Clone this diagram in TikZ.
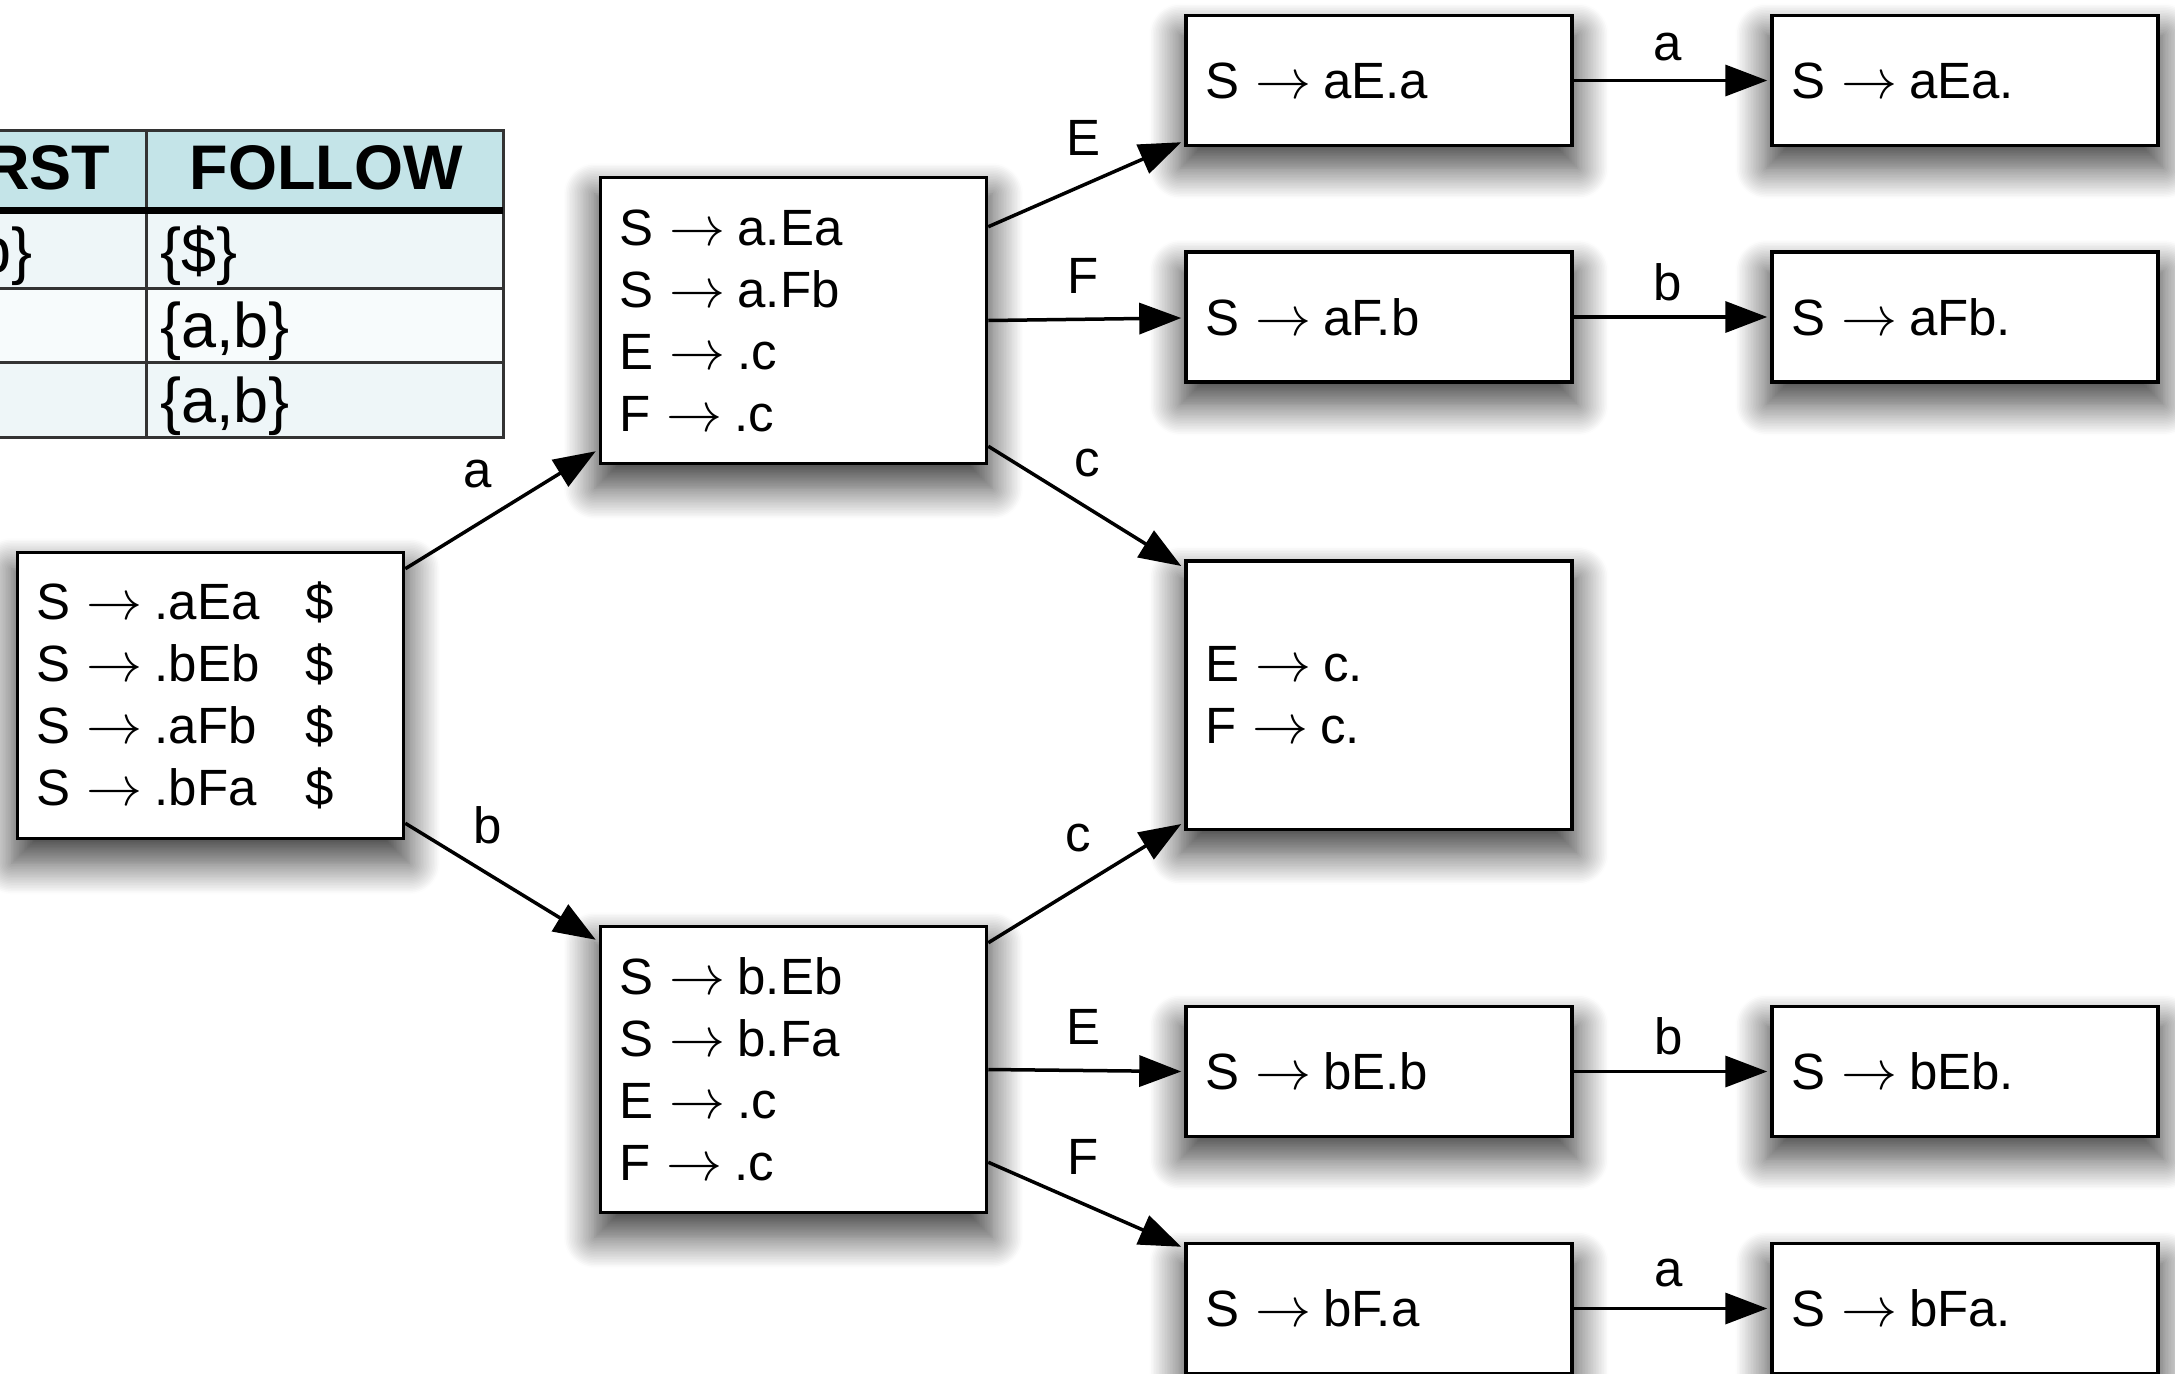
\RequirePackage{fix-cm}
\documentclass[tikz,border=0pt]{standalone}
\usepackage{fontspec}
\setmainfont{Liberation Sans}
\usetikzlibrary{arrows.meta,calc,shadows.blur}

\definecolor{hdr}{HTML}{C4E4E8}
\definecolor{rowA}{HTML}{EEF6F8}
\definecolor{rowB}{HTML}{F7FBFC}
\definecolor{gridc}{HTML}{333333}

\newcommand\prodarr{\hspace{16pt}{\fontsize{56}{62}\selectfont$\rightarrow$}\hspace{12pt}}

\begin{document}
\begin{tikzpicture}[x=1pt,y=-1pt,
  state/.style={draw=black, line width=3.5pt, fill=white, rectangle,
    inner xsep=19pt, inner ysep=0pt, text width=348pt, align=left,
    font=\fontsize{51}{62}\selectfont,
    blur shadow={shadow xshift=0pt, shadow yshift=-20pt, shadow scale=1.03, shadow blur radius=30pt, shadow blur steps=20, shadow opacity=75}},
  tallbox/.style={state, minimum height=286pt},
  midbox/.style={state, minimum height=268.5pt},
  shortbox/.style={state, minimum height=130pt},
  arr/.style={line width=3.5pt, -{Triangle[length=42pt, width=31pt]}},
  lbl/.style={font=\fontsize{51}{62}\selectfont, inner sep=0pt},
  hd/.style={font=\fontsize{63}{70}\selectfont\bfseries, inner sep=0pt},
  cell/.style={font=\fontsize{63}{70}\selectfont, inner sep=0pt, anchor=base west}]

\useasboundingbox (0,0) rectangle (2175,1373);
\clip (0,0) rectangle (2175,1373);

% ---- table ----
\fill[hdr]  (-109,130) rectangle (503,210);
\fill[rowA] (-109,210) rectangle (503,288);
\fill[rowB] (-109,288) rectangle (503,362);
\fill[rowA] (-109,362) rectangle (503,437);
\draw[gridc, line width=3pt] (-109,130) rectangle (503,437);
\draw[gridc, line width=3pt] (146,130) -- (146,437);
\draw[gridc, line width=3pt] (-109,288) -- (503,288);
\draw[gridc, line width=3pt] (-109,362) -- (503,362);
\draw[black, line width=7pt] (-109,210) -- (503,210);
\node[hd] (hfirst) at (19,168) {FIRST};
\node[hd] (hfollow) at (326,168) {FOLLOW};
\node[cell] (first1) at (-97,272) {\{a,b\}};
\node[cell] (fol1) at (160,272) {\{\$\}};
\node[cell] (fol2) at (160,347) {\{a,b\}};
\node[cell] (fol3) at (160,422) {\{a,b\}};

% ---- states ----
\node[tallbox] (s0) at (210.5,695.5) {\makebox[269pt][l]{S\prodarr.aEa}\$\\
  \makebox[269pt][l]{S\prodarr.bEb}\$\\
  \makebox[269pt][l]{S\prodarr.aFb}\$\\
  \makebox[269pt][l]{S\prodarr.bFa}\$};
\node[tallbox] (s1) at (793.5,320.5) {S\prodarr a.Ea\\S\prodarr a.Fb\\E\prodarr .c\\F\prodarr .c};
\node[tallbox] (s2) at (793.5,1069.5) {S\prodarr b.Eb\\S\prodarr b.Fa\\E\prodarr .c\\F\prodarr .c};
\node[midbox] (s3) at (1379,695) {E\prodarr c.\\F\prodarr c.};
\node[shortbox] (s4) at (1379,80.5) {S\prodarr aE.a};
\node[shortbox] (s5) at (1965,80.5) {S\prodarr aEa.};
\node[shortbox] (s6) at (1379,317) {S\prodarr aF.b};
\node[shortbox] (s7) at (1965,317) {S\prodarr aFb.};
\node[shortbox] (s8) at (1379,1071.5) {S\prodarr bE.b};
\node[shortbox] (s9) at (1965,1071.5) {S\prodarr bEb.};
\node[shortbox] (s10) at (1379,1308.5) {S\prodarr bF.a};
\node[shortbox] (s11) at (1965,1308.5) {S\prodarr bFa.};

% ---- transitions ----
\draw[arr] ($(s0.north east)+(0,18)$) -- node[lbl, midway, xshift=-22.5pt, yshift=36pt] (la) {a} ($(s1.south west)+(-3,-14)$);
\draw[arr] ($(s0.south east)+(0,-17)$) -- node[lbl, midway, xshift=-12.5pt, yshift=56.5pt] (lb) {b} ($(s2.north west)+(-3,15)$);
\draw[arr] ($(s1.north east)+(0,51)$) -- node[lbl, midway, xshift=-1.75pt, yshift=46.5pt] (lE1) {E} ($(s4.south west)+(-3,-5)$);
\draw[arr] (s1.east) -- node[lbl, midway, xshift=-1.75pt, yshift=43.25pt] (lF1) {F} ($(s6.west)+(-3,1)$);
\draw[arr] ($(s1.south east)+(0,-19)$) -- node[lbl, midway, xshift=2.25pt, yshift=43pt] (lc1) {c} ($(s3.north west)+(-3,7)$);
\draw[arr] ($(s2.north east)+(0,18)$) -- node[lbl, midway, xshift=-6.75pt, yshift=45.4pt] (lc2) {c} ($(s3.south west)+(-3,-7)$);
\draw[arr] (s2.east) -- node[lbl, midway, xshift=-1.75pt, yshift=43.5pt] (lE2) {E} ($(s8.west)+(-3,0)$);
\draw[arr] ($(s2.south east)+(0,-52)$) -- node[lbl, midway, xshift=-1.75pt, yshift=47.5pt] (lF2) {F} ($(s10.north west)+(-3,5)$);
\draw[arr] (s4.east) -- node[lbl, midway, xshift=-2.5pt, yshift=33.5pt] (la2) {a} ($(s5.west)+(-3,0)$);
\draw[arr] (s6.east) -- node[lbl, midway, xshift=-2.5pt, yshift=35pt] (lb2) {b} ($(s7.west)+(-3,0)$);
\draw[arr] (s8.east) -- node[lbl, midway, xshift=-1.5pt, yshift=35.5pt] (lb3) {b} ($(s9.west)+(-3,0)$);
\draw[arr] (s10.east) -- node[lbl, midway, xshift=-1.5pt, yshift=35.5pt] (la3) {a} ($(s11.west)+(-3,0)$);
\end{tikzpicture}
\end{document}
